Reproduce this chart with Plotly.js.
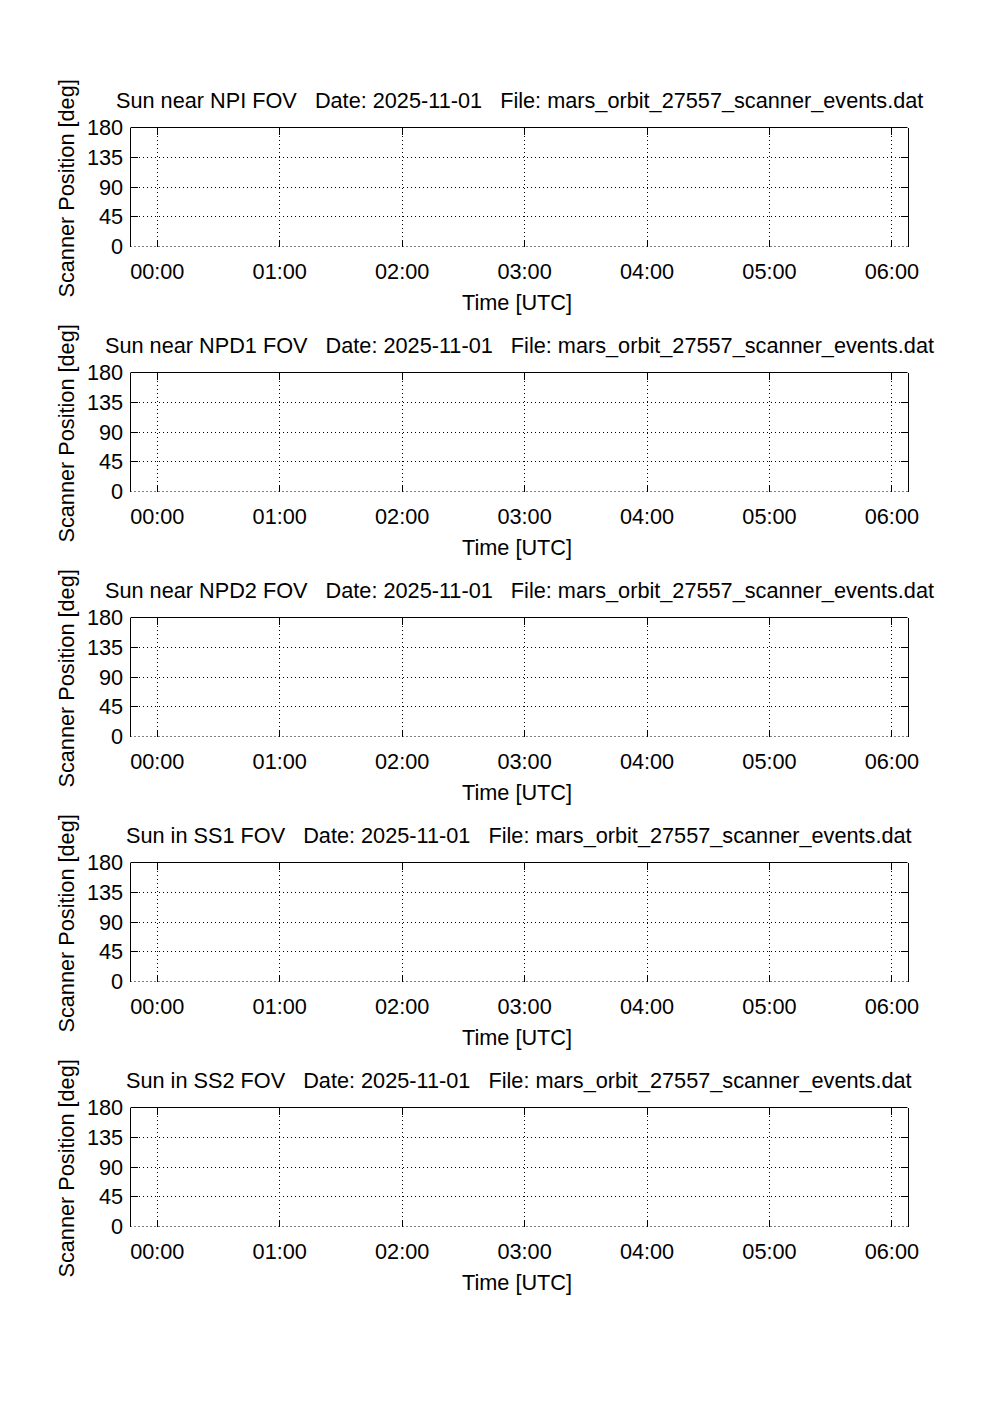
<!DOCTYPE html>
<html><head><meta charset="utf-8">
<script src="https://cdn.plot.ly/plotly-3.0.1.min.js"></script>
<style>html,body{margin:0;padding:0;background:#fff}#chart{width:1002px;height:1419px}</style>
</head><body><div id="chart"></div>
<script>
// ---- data ----
const panelLabels = ['Sun near NPI FOV', 'Sun near NPD1 FOV', 'Sun near NPD2 FOV', 'Sun in SS1 FOV', 'Sun in SS2 FOV'];
const dateLabel = '2025-11-01';
const fileLabel = 'mars_orbit_27557_scanner_events.dat';
const xTickLabels = ['00:00', '01:00', '02:00', '03:00', '04:00', '05:00', '06:00'];
const yTickValues = [0, 45, 90, 135, 180];
const xRange = ['2025-10-31 23:46:52', '2025-11-01 06:07:39'];
const yRange = [0, 180];
// scanner events (none recorded in this file)
const npiTimes = [], npiPositions = [];
const npd1Times = [], npd1Positions = [];
const npd2Times = [], npd2Positions = [];
const ss1Times = [], ss1Positions = [];
const ss2Times = [], ss2Positions = [];
const seriesTimes = [npiTimes, npd1Times, npd2Times, ss1Times, ss2Times];
const seriesPositions = [npiPositions, npd1Positions, npd2Positions, ss1Positions, ss2Positions];

// ---- layout ----
const W = 1002, H = 1419;
const axL = 130.5, axR = 907.5, axH = 119;
const tops = [127.5, 372.5, 617.5, 862.5, 1107.5];
const FONT = {family: 'Liberation Sans, Arial, Helvetica, sans-serif', size: 21.7, color: '#000'};
const xTickVals = xTickLabels.map(t => dateLabel + ' ' + t);

const data = [];
const layout = {
  width: W, height: H,
  margin: {l: 0, r: 0, t: 0, b: 0},
  paper_bgcolor: '#fff', plot_bgcolor: '#fff',
  showlegend: false,
  font: FONT,
  annotations: [], shapes: []
};

panelLabels.forEach((lab, i) => {
  const n = i === 0 ? '' : String(i + 1);
  const top = tops[i], bot = top + axH;
  data.push({
    type: 'scatter', mode: 'lines',
    x: seriesTimes[i], y: seriesPositions[i],
    xaxis: 'x' + n, yaxis: 'y' + n,
    line: {color: '#0000ff', width: 1}
  });
  layout['xaxis' + n] = {
    type: 'date', range: xRange, anchor: 'y' + n,
    domain: [axL / W, axR / W],
    tickmode: 'array', tickvals: xTickVals, ticktext: xTickLabels,
    ticks: 'inside', ticklen: 7, tickwidth: 1, tickcolor: '#000',
    mirror: 'allticks', showline: false,
    showgrid: true, gridcolor: '#000', gridwidth: 1, griddash: '1px,3px',
    zeroline: false, ticklabelstandoff: 10,
    tickfont: FONT, fixedrange: true
  };
  layout['yaxis' + n] = {
    range: yRange, anchor: 'x' + n,
    domain: [1 - bot / H, 1 - top / H],
    tickmode: 'array', tickvals: yTickValues,
    ticks: 'inside', ticklen: 7, tickwidth: 1, tickcolor: '#000',
    mirror: 'allticks', showline: true, linecolor: '#000', linewidth: 1,
    showgrid: true, gridcolor: '#000', gridwidth: 1, griddash: '1px,3px',
    zeroline: false, ticklabelstandoff: 2,
    tickfont: FONT, fixedrange: true
  };
  // top edge solid, bottom edge dotted (as in the reference)
  layout.shapes.push({type: 'line', xref: 'x' + n + ' domain', yref: 'y' + n + ' domain',
    x0: 0, x1: 1, y0: 1, y1: 1, line: {color: '#000', width: 1}});
  layout.shapes.push({type: 'line', xref: 'x' + n + ' domain', yref: 'y' + n + ' domain',
    x0: 0, x1: 1, y0: 0, y1: 0, line: {color: '#000', width: 1, dash: '1px,3px'}});
  // panel title
  layout.annotations.push({
    text: lab + '\u00a0\u00a0 Date: ' + dateLabel + '\u00a0\u00a0 File: ' + fileLabel,
    xref: 'paper', yref: 'paper', x: (axL + axR) / 2 / W, y: 1 - (top - 27) / H,
    xanchor: 'center', yanchor: 'middle', showarrow: false, font: FONT
  });
  // y title
  layout.annotations.push({
    text: 'Scanner Position [deg]', textangle: -90,
    xref: 'paper', yref: 'paper', x: 66 / W, y: 1 - (top + axH / 2 + 1.5) / H,
    xanchor: 'center', yanchor: 'middle', showarrow: false, font: FONT
  });
  // x title
  layout.annotations.push({
    text: 'Time [UTC]',
    xref: 'paper', yref: 'paper', x: 517 / W, y: 1 - (bot + 55.5) / H,
    xanchor: 'center', yanchor: 'middle', showarrow: false, font: FONT
  });
});

Plotly.newPlot('chart', data, layout, {staticPlot: true, displayModeBar: false});
</script>
</body></html>
